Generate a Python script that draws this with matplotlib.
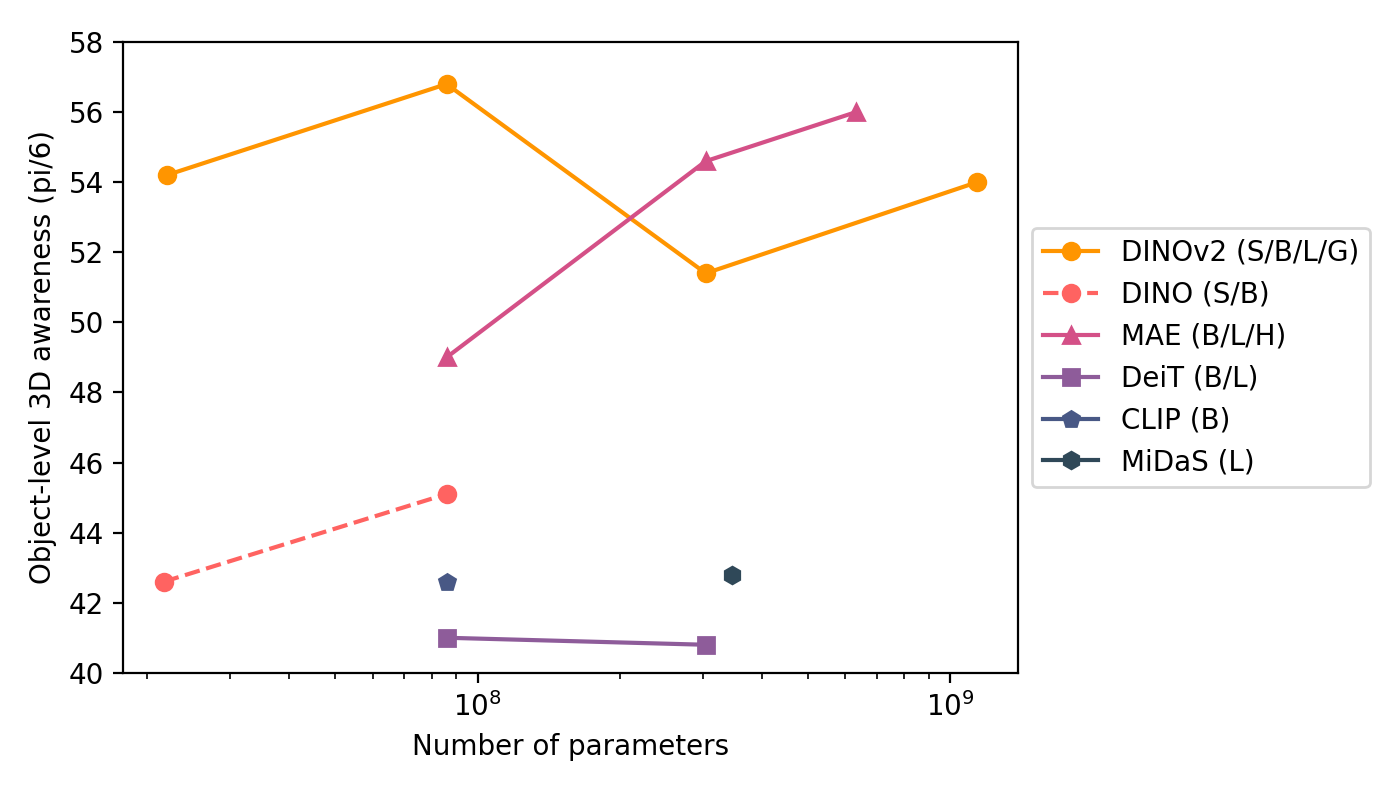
import numpy as np
import matplotlib.pyplot as plt

# number of parameters / scores
dinov2_x = [22e6, 86e6, 304e6, 1.14e9]
dinov2_y = [54.2, 56.8, 51.4, 54.0]
dino_x = [21.7e6, 86e6]
dino_y = [42.6, 45.1]
mae_x = [86e6, 304e6, 632e6]
mae_y = [49.0, 54.6, 56.0]
deit_x = [86e6, 304e6]
deit_y = [41.0, 40.8]
clip_x = [86e6]
clip_y = [42.6]
midas_x = [345e6]
midas_y = [42.8]

fig, ax = plt.subplots(figsize=(7, 4), dpi=200)
plt.subplots_adjust(left=0.088, right=0.727, top=0.9475, bottom=0.159)

ax.plot(dinov2_x, dinov2_y, color='#ff9500', marker='o', label='DINOv2 (S/B/L/G)')
ax.plot(dino_x, dino_y, color='#ff6361', marker='o', linestyle='--', label='DINO (S/B)')
ax.plot(mae_x, mae_y, color='#d45087', marker='^', label='MAE (B/L/H)')
ax.plot(deit_x, deit_y, color='#8e5c9a', marker='s', label='DeiT (B/L)')
ax.plot(clip_x, clip_y, color='#485885', marker='p', label='CLIP (B)')
ax.plot(midas_x, midas_y, color='#2f4858', marker='h', label='MiDaS (L)')

ax.set_xscale('log')
ax.set_ylim(40, 58)
ax.set_yticks(np.arange(40, 59, 2))
ax.set_xlabel('Number of parameters')
ax.set_ylabel('Object-level 3D awareness (pi/6)')
ax.legend(loc='center left', bbox_to_anchor=(1.0, 0.5))

plt.savefig('out.png')
